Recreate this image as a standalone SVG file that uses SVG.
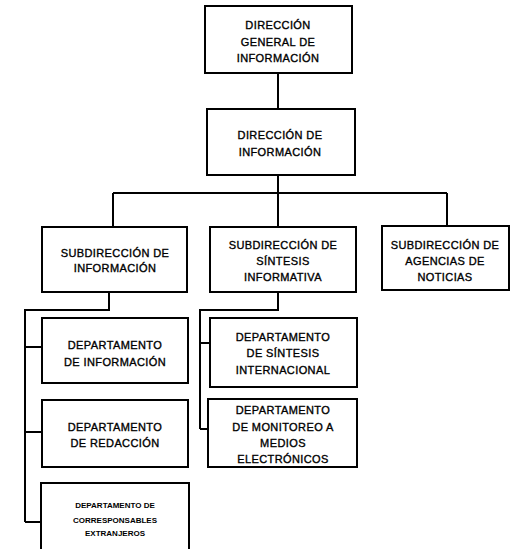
<svg xmlns="http://www.w3.org/2000/svg" width="512" height="549" viewBox="0 0 512 549">
<style>
.box{fill:#fff;stroke:#000;stroke-width:2}
.c{fill:none;stroke:#000;stroke-width:2}
text{font-family:"Liberation Sans",Arial,sans-serif;font-size:11px;fill:#000;stroke:#000;stroke-width:0.35px;text-anchor:middle;letter-spacing:0.4px}
.s{font-size:8px;font-weight:bold;letter-spacing:0;stroke-width:0}
</style>
<rect width="512" height="549" fill="#fff"/>
<g id="connectors">
<path class="c" d="M278 73V110M278 175V227M113 193H447M113 193V227M447 193V226"/>
<path class="c" d="M109 292V310H25V522M25 347H42M25 432H42M25 522H41"/>
<path class="c" d="M278 292V310H200V429M200 343H210M200 429H208"/>
</g>
<g id="n1"><rect class="box" x="205" y="6" width="147" height="67"/>
<text x="278" y="29">DIRECCIÓN</text><text x="278" y="46">GENERAL DE</text><text x="278" y="62">INFORMACIÓN</text></g>
<g id="n2"><rect class="box" x="207" y="109" width="148" height="66"/>
<text x="280" y="139">DIRECCIÓN DE</text><text x="280" y="156">INFORMACIÓN</text></g>
<g id="n3"><rect class="box" x="42" y="227" width="145" height="65"/>
<text x="115" y="257">SUBDIRECCIÓN DE</text><text x="115" y="272">INFORMACIÓN</text></g>
<g id="n4"><rect class="box" x="210" y="227" width="146" height="65"/>
<text x="283" y="249">SUBDIRECCIÓN DE</text><text x="283" y="265">SÍNTESIS</text><text x="283" y="281">INFORMATIVA</text></g>
<g id="n5"><rect class="box" x="382" y="226" width="127" height="64"/>
<text x="445" y="249">SUBDIRECCIÓN DE</text><text x="445" y="265">AGENCIAS DE</text><text x="445" y="281">NOTICIAS</text></g>
<g id="n6"><rect class="box" x="42" y="318" width="146" height="65"/>
<text x="115" y="349">DEPARTAMENTO</text><text x="115" y="366">DE INFORMACIÓN</text></g>
<g id="n7"><rect class="box" x="42" y="400" width="146" height="67"/>
<text x="115" y="431">DEPARTAMENTO</text><text x="115" y="447">DE REDACCIÓN</text></g>
<g id="n8"><rect class="box" x="41" y="483" width="148" height="70"/>
<text class="s" x="115" y="508">DEPARTAMENTO DE</text><text class="s" x="115" y="523">CORRESPONSABLES</text><text class="s" x="115" y="536">EXTRANJEROS</text></g>
<g id="n9"><rect class="box" x="210" y="318" width="147" height="69"/>
<text x="283" y="341">DEPARTAMENTO</text><text x="283" y="357">DE SÍNTESIS</text><text x="283" y="374">INTERNACIONAL</text></g>
<g id="n10"><rect class="box" x="208" y="399" width="149" height="68"/>
<text x="283" y="414">DEPARTAMENTO</text><text x="283" y="431">DE MONITOREO A</text><text x="283" y="447">MEDIOS</text><text x="283" y="463">ELECTRÓNICOS</text></g>
</svg>
